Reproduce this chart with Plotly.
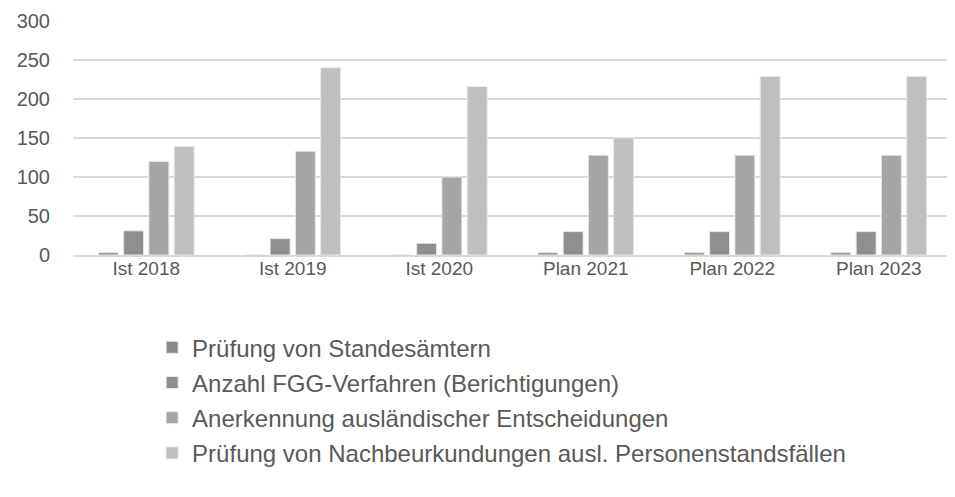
import plotly.graph_objects as go

categories = ["Ist 2018", "Ist 2019", "Ist 2020", "Plan 2021", "Plan 2022", "Plan 2023"]
series_names = [
    "Prüfung von Standesämtern",
    "Anzahl FGG-Verfahren (Berichtigungen)",
    "Anerkennung ausländischer Entscheidungen",
    "Prüfung von Nachbeurkundungen ausl. Personenstandsfällen",
]
pruefung_standesaemter = [3, 0, 0, 3, 3, 3]
fgg_verfahren = [31, 21, 15, 30, 30, 30]
anerkennung = [120, 133, 100, 128, 128, 128]
nachbeurkundungen = [139, 240, 216, 150, 229, 229]
y_ticks = [0, 50, 100, 150, 200, 250, 300]

series_values = [pruefung_standesaemter, fgg_verfahren, anerkennung, nachbeurkundungen]
colors = ["#8a8a8a", "#8f8f8f", "#a5a5a5", "#bfbfbf"]

fig = go.Figure()
for i, (name, vals, col) in enumerate(zip(series_names, series_values, colors)):
    fig.add_trace(go.Bar(
        x=categories, y=vals, name=name, legendgroup=f"g{i}",
        marker=dict(color=col, line=dict(color="#e8e8e8", width=1)),
    ))

# the page body has an 8px margin, so the figure is sized/offset to compensate
fig.update_layout(
    width=947, height=481,
    margin=dict(l=65, r=3, t=13, b=234),
    paper_bgcolor="white", plot_bgcolor="white",
    barmode="group", bargap=0.31, bargroupgap=0.21,
    font=dict(family="Liberation Sans", size=18, color="#595959"),
    showlegend=True,
    legend=dict(
        orientation="v", x=0.09, xanchor="left", y=-0.3, yanchor="top",
        font=dict(size=24, color="#595959"), tracegroupgap=1,
        itemwidth=30,
    ),
)
fig.update_yaxes(
    range=[0, 300], tickvals=y_ticks, showgrid=True, gridcolor="#d9d9d9", gridwidth=2,
    zeroline=False, showline=False, ticks="", ticklabelstandoff=22,
    tickfont=dict(size=20, color="#595959"),
)
fig.update_xaxes(
    showline=True, linecolor="#d9d9d9", linewidth=2, ticks="",
    tickfont=dict(size=19, color="#595959"), ticklabelstandoff=-5,
)

fig.write_html("out.html")
